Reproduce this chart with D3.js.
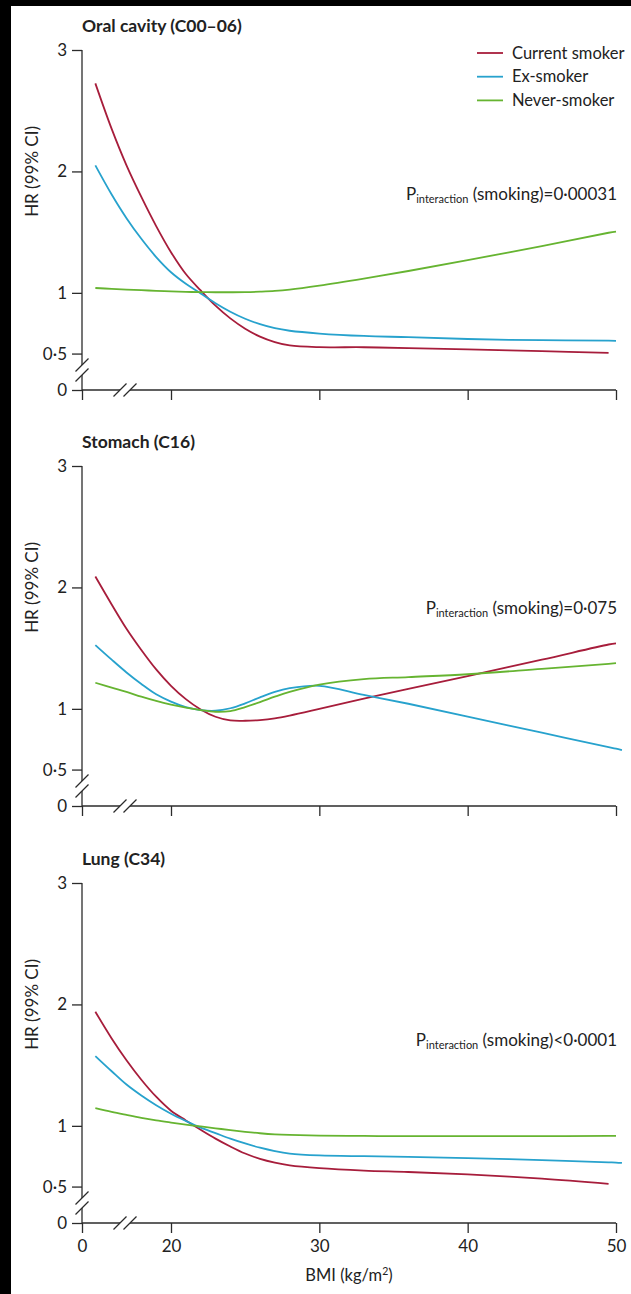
<!DOCTYPE html>
<html>
<head>
<meta charset="utf-8">
<script src="https://cdn.jsdelivr.net/npm/d3@7"></script>
<style>
  html, body { margin: 0; padding: 0; background: #000; }
  svg { display: block; }
  text { font-family: Lato, "Open Sans", sans-serif; fill: #222; }
</style>
</head>
<body>
<svg id="chart" width="631" height="1294"></svg>
<script>
// ---------------- DATA ----------------
const bmi = [14.9, 16, 17, 18, 19, 20, 21, 22, 23, 24, 25, 26, 27, 28, 30, 33, 36, 40, 45, 49.5, 50, 50.4];

const seriesNames = ["Current smoker", "Ex-smoker", "Never-smoker"];
const panelTitles = ["Oral cavity (C00–06)", "Stomach (C16)", "Lung (C34)"];
const pValueTexts = ["=0·00031", "=0·075", "<0·0001"];

const oralCurrent = [2.725, 2.35, 2.05, 1.79, 1.55, 1.335, 1.155, 1.02, 0.895, 0.79, 0.705, 0.64, 0.595, 0.567, 0.553, 0.552, 0.545, 0.535, 0.52, 0.506, null, null];
const oralEx      = [2.05, 1.81, 1.615, 1.445, 1.295, 1.17, 1.075, 0.995, 0.915, 0.845, 0.787, 0.742, 0.709, 0.688, 0.665, 0.645, 0.635, 0.62, 0.61, 0.606, 0.605, null];
const oralNever   = [1.04, 1.033, 1.027, 1.022, 1.017, 1.012, 1.008, 1.006, 1.005, 1.005, 1.006, 1.01, 1.016, 1.027, 1.06, 1.118, 1.18, 1.27, 1.385, 1.495, 1.505, null];

const stomachCurrent = [2.09, 1.86, 1.66, 1.485, 1.325, 1.19, 1.08, 0.995, 0.935, 0.905, 0.902, 0.908, 0.922, 0.945, 1.0, 1.085, 1.165, 1.27, 1.405, 1.53, 1.54, null];
const stomachEx      = [1.525, 1.405, 1.30, 1.205, 1.12, 1.06, 1.015, 0.99, 0.985, 1.005, 1.045, 1.095, 1.14, 1.17, 1.19, 1.115, 1.042, 0.936, 0.804, 0.685, 0.672, 0.661];
const stomachNever   = [1.215, 1.175, 1.14, 1.10, 1.065, 1.035, 1.01, 0.99, 0.976, 0.982, 1.015, 1.055, 1.10, 1.14, 1.20, 1.245, 1.262, 1.285, 1.33, 1.371, 1.376, null];

const lungCurrent = [1.94, 1.72, 1.54, 1.38, 1.24, 1.125, 1.045, 0.968, 0.895, 0.83, 0.772, 0.728, 0.697, 0.675, 0.652, 0.632, 0.62, 0.60, 0.565, 0.523, null, null];
const lungEx      = [1.575, 1.45, 1.34, 1.25, 1.17, 1.10, 1.04, 0.985, 0.94, 0.895, 0.855, 0.82, 0.792, 0.772, 0.757, 0.75, 0.745, 0.735, 0.717, 0.70, 0.698, 0.695];
const lungNever   = [1.146, 1.115, 1.09, 1.066, 1.045, 1.027, 1.01, 0.995, 0.98, 0.965, 0.951, 0.939, 0.93, 0.925, 0.92, 0.917, 0.915, 0.915, 0.915, 0.917, 0.917, null];

const panelSeries = [
  [oralCurrent, oralEx, oralNever],
  [stomachCurrent, stomachEx, stomachNever],
  [lungCurrent, lungEx, lungNever]
];

const yTickValues = [0.2, 0.5, 1, 2, 3];   // 0.2 is the foot of the broken axis, labelled "0"
const xTickValues = [14, 20, 30, 40, 50];  // 14 is the foot of the broken axis, labelled "0"

// ---------------- LAYOUT ----------------
const W = 631, H = 1294;
const colors = ["#a71d3b", "#27a2cd", "#66b431"];
const axisColor = "#2b2b2b";
const panelTop = [50, 466, 883];
const panelHeight = 340;
const pBaseline = [200, 614, 1046];
const FONT = "Lato, 'Open Sans', sans-serif";

const svg = d3.select("#chart");
svg.append("rect").attr("width", W).attr("height", H).attr("fill", "#000");
svg.append("rect").attr("x", 11).attr("y", 6).attr("width", W - 11).attr("height", H - 6).attr("fill", "#fff");

const x = d3.scaleLinear().domain([14, 50]).range([82, 616]);

const fmtY = v => v === 0.2 ? "0" : String(v).replace(".", "·");
const fmtX = v => v === 14 ? "0" : String(v);

panelSeries.forEach((series, pi) => {
  const top = panelTop[pi];
  const bottom = top + panelHeight;
  const y = d3.scaleLinear().domain([0.2, 3]).range([bottom, top]);
  const g = svg.append("g");

  // title
  g.append("text")
    .attr("x", 82).attr("y", top - 18)
    .attr("font-size", 17.5).attr("font-weight", "bold")
    .text(panelTitles[pi]);

  // y axis label
  g.append("text")
    .attr("transform", `translate(37.5,${y(2)}) rotate(-90)`)
    .attr("text-anchor", "middle")
    .attr("font-size", 17)
    .text("HR (99% CI)");

  // y axis ticks
  const yAxis = d3.axisLeft(y).tickValues(yTickValues).tickSize(10).tickPadding(5).tickFormat(fmtY);
  const ya = g.append("g").attr("transform", "translate(82,0)").call(yAxis);
  ya.select(".domain").remove();
  ya.selectAll("line").attr("stroke", axisColor).attr("stroke-width", 1.3);
  ya.selectAll("text").attr("font-size", 17).attr("fill", "#222").style("font-family", FONT);

  // x axis ticks
  const xAxis = d3.axisBottom(x).tickValues(xTickValues).tickSize(10).tickPadding(7).tickFormat(fmtX);
  const xa = g.append("g").attr("transform", `translate(0,${bottom})`).call(xAxis);
  xa.select(".domain").remove();
  xa.selectAll("line").attr("stroke", axisColor).attr("stroke-width", 1.3);
  xa.selectAll("text").attr("font-size", 17).attr("fill", "#222").style("font-family", FONT);
  if (pi < 2) xa.selectAll("text").remove();

  // axis lines with breaks
  const brY1 = bottom - 25, brY2 = bottom - 15;
  const brX1 = 120, brX2 = 130;
  const axisLines = [
    [82, top, 82, brY1], [82, brY2, 82, bottom],
    [82, bottom, brX1, bottom], [brX2, bottom, 616, bottom]
  ];
  axisLines.forEach(l => g.append("line")
    .attr("x1", l[0]).attr("y1", l[1]).attr("x2", l[2]).attr("y2", l[3])
    .attr("stroke", axisColor).attr("stroke-width", 1.3));
  const slashes = [[82, brY1], [82, brY2], [brX1, bottom], [brX2, bottom]];
  slashes.forEach(s => g.append("line")
    .attr("x1", s[0] - 6.5).attr("y1", s[1] + 6.5).attr("x2", s[0] + 6.5).attr("y2", s[1] - 6.5)
    .attr("stroke", axisColor).attr("stroke-width", 1.3));

  // curves
  const line = d3.line()
    .defined(d => d[1] !== null)
    .x(d => x(d[0])).y(d => y(d[1]))
    .curve(d3.curveCatmullRom.alpha(0.5));
  series.forEach((vals, si) => {
    g.append("path")
      .datum(bmi.map((b, i) => [b, vals[i]]))
      .attr("d", line)
      .attr("fill", "none")
      .attr("stroke", colors[si])
      .attr("stroke-width", 1.8);
  });

  // P interaction text
  const pt = g.append("text")
    .attr("x", 617).attr("y", pBaseline[pi])
    .attr("text-anchor", "end")
    .attr("font-size", 17);
  pt.append("tspan").text("P");
  pt.append("tspan").attr("font-size", 11).attr("dy", 3).text("interaction");
  pt.append("tspan").attr("dy", -3).text(" (smoking)" + pValueTexts[pi]);

  if (pi === 2) {
    g.append("text")
      .attr("x", 349).attr("y", bottom + 58)
      .attr("text-anchor", "middle")
      .attr("font-size", 16.5)
      .html("BMI (kg/m<tspan font-size='10.5' dy='-6'>2</tspan><tspan dy='6'>)</tspan>");
  }
});

// legend
const legend = svg.append("g");
seriesNames.forEach((name, i) => {
  const ly = 53 + i * 23.7;
  legend.append("line")
    .attr("x1", 477).attr("x2", 503).attr("y1", ly).attr("y2", ly)
    .attr("stroke", colors[i]).attr("stroke-width", 1.8);
  legend.append("text")
    .attr("x", 512).attr("y", ly + 5.5)
    .attr("font-size", 16.5)
    .text(name);
});
</script>
</body>
</html>
